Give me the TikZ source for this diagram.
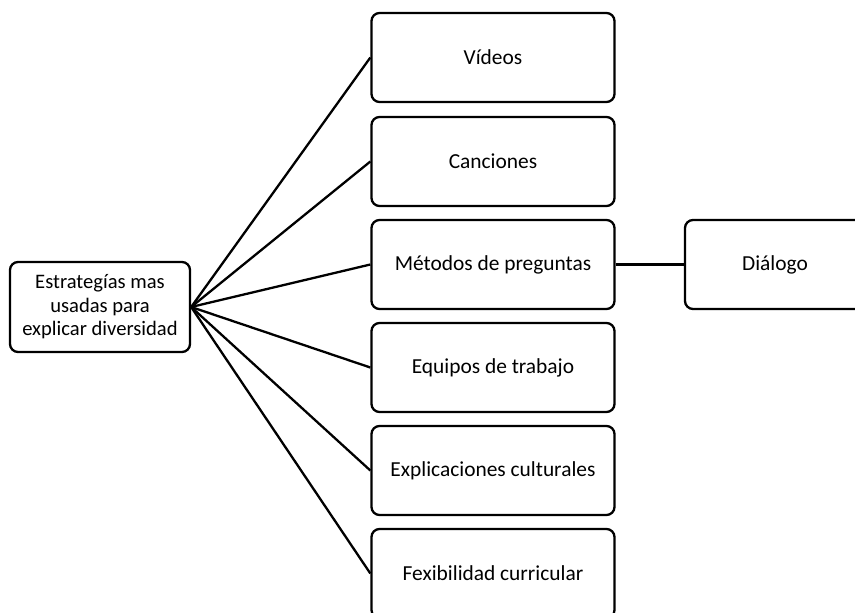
\documentclass[tikz,border=0pt]{standalone}
\usepackage{fontspec}
\setmainfont{Carlito}
\begin{document}
\begin{tikzpicture}[x=1pt,y=-1pt,
  box/.style={draw,line width=2.3pt,rounded corners=8pt,inner sep=0pt,
    font=\fontsize{21.4}{25}\selectfont,align=center},
  colbox/.style={box,minimum width=243pt,minimum height=89pt},
  conn/.style={line width=2.3pt}]
\useasboundingbox (0,0) rectangle (855,613);
\node[box,minimum width=180pt,minimum height=90pt,
  font=\fontsize{20.6}{23.5}\selectfont] (root) at (100,307)
  {Estrategías mas\\usadas para\\explicar diversidad};
\node[colbox] (vid) at (493,57.5) {Vídeos};
\node[colbox] (can) at (493,161.5) {Canciones};
\node[colbox] (met) at (493,264.5) {Métodos de preguntas};
\node[colbox] (equ) at (493,367.5) {Equipos de trabajo};
\node[colbox] (exp) at (493,470.5) {Explicaciones culturales};
\node[colbox] (fex) at (493,573.5) {Fexibilidad curricular};
\node[box,minimum width=180pt,minimum height=89pt] (dia) at (775,264.5) {Diálogo};
\foreach \n in {vid,can,met,equ,exp,fex}
  \draw[conn] (root.east) -- (\n.west);
\draw[conn] (met.east) -- (dia.west);
\end{tikzpicture}
\end{document}
